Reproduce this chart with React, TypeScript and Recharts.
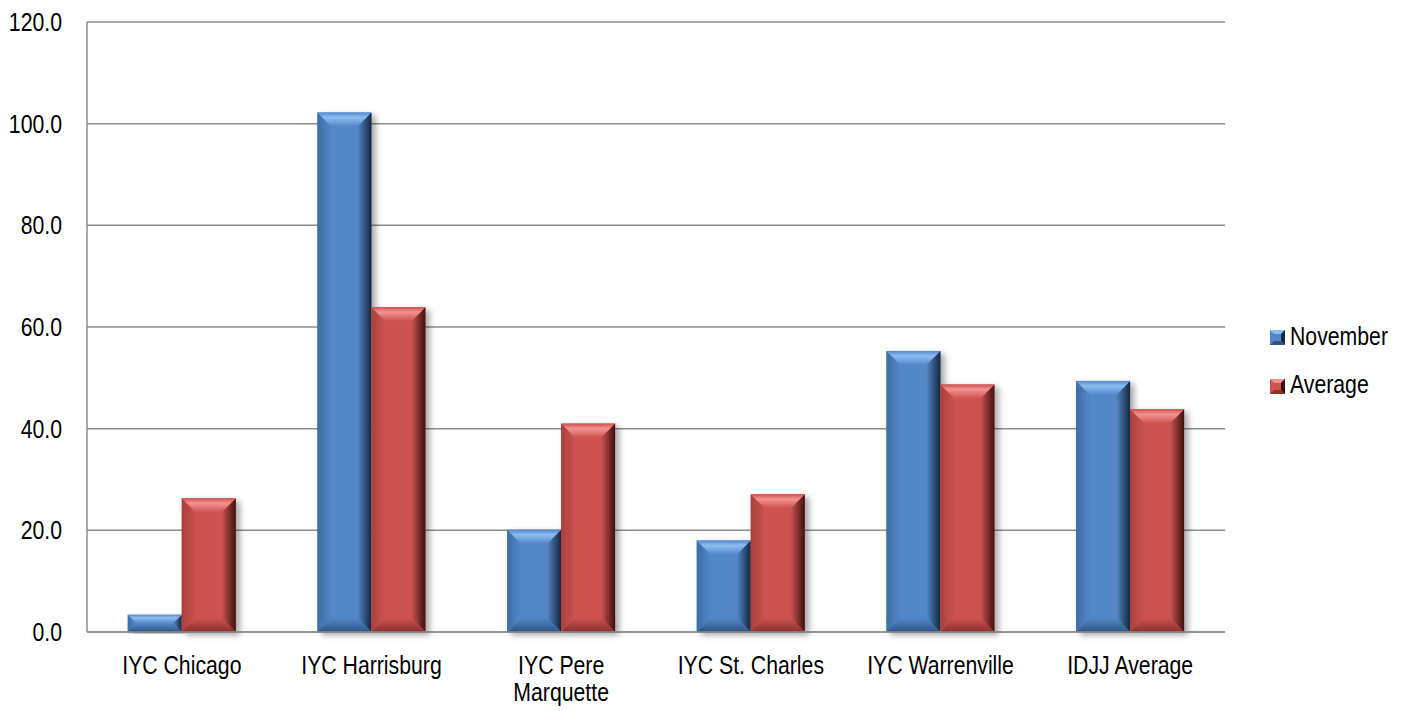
import React from 'react';
import { BarChart, Bar, XAxis, YAxis, CartesianGrid } from 'recharts';

const categories = ['IYC Chicago', 'IYC Harrisburg', 'IYC Pere Marquette', 'IYC St. Charles', 'IYC Warrenville', 'IDJJ Average'];
const november = [3.4, 102.2, 20.1, 18.0, 55.3, 49.4];
const average = [26.3, 63.9, 41.0, 27.1, 48.7, 43.8];
const yTicks = [0, 20, 40, 60, 80, 100, 120];
const seriesNames = ['November', 'Average'];

const data = categories.map((c, i) => ({ name: c, november: november[i], average: average[i] }));

const FONT = '"Liberation Sans", Arial, sans-serif';
const FS = 25;
const SX = 0.85;

const palettes: Record<string, { face: string; light: string; left: string; dark: string; bottom: string }> = {
  blue: { face: '#5387C8', light: '#8CBDF2', left: '#3E6DA6', dark: '#14263D', bottom: '#2E5583' },
  red: { face: '#CC5350', light: '#F49290', left: '#A9403D', dark: '#3E1110', bottom: '#8A302E' },
};

const NText = ({ x, y, anchor, children }: { x: number; y: number; anchor: 'start' | 'middle' | 'end'; children: any }) => (
  <g transform={`translate(${x},${y}) scale(${SX},1)`}>
    <text x={0} y={0} textAnchor={anchor} fontFamily={FONT} fontSize={FS} fill="#000">
      {children}
    </text>
  </g>
);

const Defs = () => (
  <defs>
    {Object.entries(palettes).map(([k, p]) => (
      <React.Fragment key={k}>
        <linearGradient id={`top-${k}`} x1="0" y1="0" x2="0" y2="1">
          <stop offset="0%" stopColor={p.face} />
          <stop offset="35%" stopColor={p.light} />
          <stop offset="100%" stopColor={p.face} />
        </linearGradient>
        <linearGradient id={`left-${k}`} x1="0" y1="0" x2="1" y2="0">
          <stop offset="0%" stopColor={p.left} />
          <stop offset="100%" stopColor={p.face} />
        </linearGradient>
        <linearGradient id={`right-${k}`} x1="0" y1="0" x2="1" y2="0">
          <stop offset="0%" stopColor={p.face} />
          <stop offset="100%" stopColor={p.dark} />
        </linearGradient>
        <linearGradient id={`bottom-${k}`} x1="0" y1="0" x2="0" y2="1">
          <stop offset="0%" stopColor={p.face} />
          <stop offset="100%" stopColor={p.bottom} />
        </linearGradient>
      </React.Fragment>
    ))}
    <filter id="barShadow" x="-20%" y="-5%" width="150%" height="115%">
      <feDropShadow dx="4" dy="3" stdDeviation="3" floodColor="#000" floodOpacity="0.35" />
    </filter>
  </defs>
);

const makeShape = (k: string) => (props: any) => {
  const { x, y, width: w, height: h } = props;
  if (!h || h <= 0) return null;
  const p = palettes[k];
  const b = Math.min(14, w / 2, h / 2);
  const pts = (arr: number[][]) => arr.map((q) => q.join(',')).join(' ');
  return (
    <g filter="url(#barShadow)">
      <rect x={x} y={y} width={w} height={h} fill={p.face} />
      <polygon points={pts([[x, y], [x + b, y + b], [x + b, y + h - b], [x, y + h]])} fill={`url(#left-${k})`} />
      <polygon points={pts([[x + w, y], [x + w, y + h], [x + w - b, y + h - b], [x + w - b, y + b]])} fill={`url(#right-${k})`} />
      <polygon points={pts([[x, y + h], [x + b, y + h - b], [x + w - b, y + h - b], [x + w, y + h]])} fill={`url(#bottom-${k})`} />
      <polygon points={pts([[x, y], [x + w, y], [x + w - b, y + b], [x + b, y + b]])} fill={`url(#top-${k})`} />
    </g>
  );
};

const splitLabel = (s: string) => {
  if (s.length <= 15) return [s];
  const words = s.split(' ');
  const lines: string[] = [];
  let cur = '';
  for (const w of words) {
    const t = cur ? cur + ' ' + w : w;
    if (t.length > 15 && cur) {
      lines.push(cur);
      cur = w;
    } else cur = t;
  }
  if (cur) lines.push(cur);
  return lines;
};

const XTick = (props: any) => {
  const { x, payload } = props;
  const lines = splitLabel(String(payload.value));
  return (
    <g>
      {lines.map((l, i) => (
        <NText key={i} x={x} y={674 + i * 27} anchor="middle">{l}</NText>
      ))}
    </g>
  );
};

const YTick = (props: any) => {
  const { y, payload } = props;
  return <NText x={62} y={y + 9} anchor="end">{Number(payload.value).toFixed(1)}</NText>;
};

const LegendIcon = ({ k, x, y }: { k: string; x: number; y: number }) => {
  const p = palettes[k];
  const s = 15;
  const b = 4;
  return (
    <g>
      <rect x={x} y={y} width={s} height={s} fill={p.face} />
      <polygon points={`${x},${y} ${x + s},${y} ${x + s - b},${y + b} ${x + b},${y + b}`} fill={p.light} />
      <polygon points={`${x + s},${y} ${x + s},${y + s} ${x + s - b},${y + s - b} ${x + s - b},${y + b}`} fill={p.dark} />
      <polygon points={`${x},${y + s} ${x + b},${y + s - b} ${x + s - b},${y + s - b} ${x + s},${y + s}`} fill={p.bottom} />
    </g>
  );
};

export default function App() {
  const keys = ['blue', 'red'];
  return (
    <div style={{ position: 'absolute', left: 0, top: 0, width: 1410, height: 711, background: '#fff' }}>
      <BarChart
        width={1410}
        height={711}
        data={data}
        margin={{ top: 22, right: 185, bottom: 0, left: 0 }}
        barCategoryGap="21.5%"
        barGap={0}
      >
        <Defs />
        <CartesianGrid vertical={false} stroke="#8c8c8c" strokeWidth={1.5} />
        <XAxis
          dataKey="name"
          height={79}
          axisLine={{ stroke: '#8c8c8c', strokeWidth: 1.5 }}
          tickLine={false}
          tick={<XTick />}
          interval={0}
        />
        <YAxis
          width={87}
          domain={[0, 120]}
          ticks={yTicks}
          axisLine={{ stroke: '#8c8c8c', strokeWidth: 1.5 }}
          tickLine={false}
          tick={<YTick />}
        />
        <Bar dataKey="november" name={seriesNames[0]} fill="#5387C8" shape={makeShape('blue')} isAnimationActive={false} />
        <Bar dataKey="average" name={seriesNames[1]} fill="#CC5350" shape={makeShape('red')} isAnimationActive={false} />
      </BarChart>
      <svg width={200} height={120} style={{ position: 'absolute', left: 1260, top: 310 }}>
        {seriesNames.map((n, i) => (
          <g key={n}>
            <LegendIcon k={keys[i]} x={10} y={20 + i * 49} />
            <NText x={30} y={35 + i * 48} anchor="start">{n}</NText>
          </g>
        ))}
      </svg>
    </div>
  );
}
